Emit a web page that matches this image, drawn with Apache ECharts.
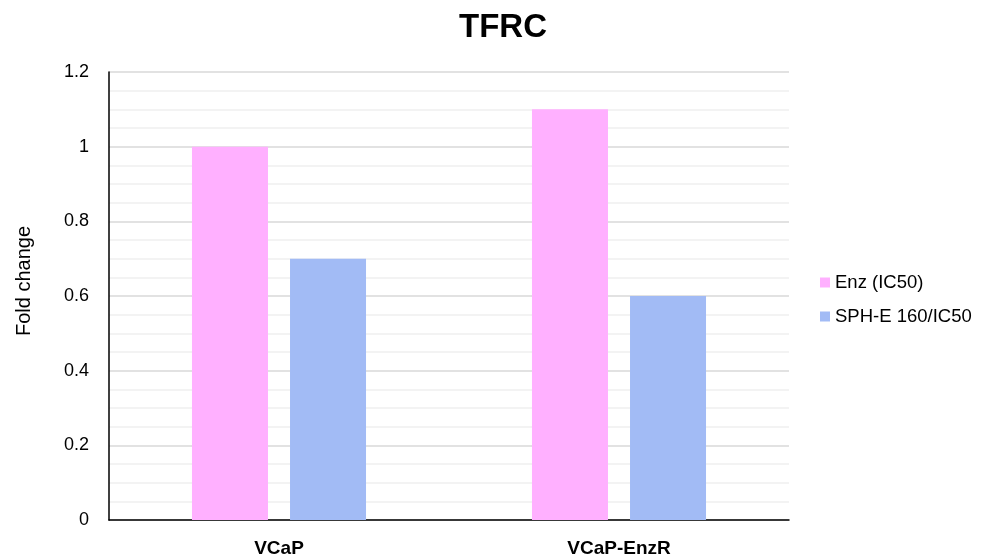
<!DOCTYPE html>
<html>
<head>
<meta charset="utf-8">
<script src="https://cdn.jsdelivr.net/npm/echarts@6/dist/echarts.min.js"></script>
<style>
  html, body { margin: 0; padding: 0; background: #ffffff; }
  #chart { width: 981px; height: 556px; }
</style>
</head>
<body>
<div id="chart"></div>
<script>
// Cell lines on the x axis
const categories = ['VCaP', 'VCaP-EnzR'];
// Fold change per treatment
const enzValues = [1.0, 1.1];
const sphValues = [0.7, 0.6];
const seriesNames = ['Enz (IC50)', 'SPH-E 160/IC50'];

const chart = echarts.init(document.getElementById('chart'));
chart.setOption({
  animation: false,
  backgroundColor: '#ffffff',
  title: {
    text: 'TFRC',
    left: 498,
    top: 6,
    textAlign: 'center',
    textStyle: { fontFamily: 'Liberation Sans', fontWeight: 'bold', fontSize: 33, color: '#000' }
  },
  legend: {
    orient: 'vertical',
    left: 815,
    top: 268,
    itemWidth: 10,
    itemHeight: 10,
    itemGap: 15,
    icon: 'rect',
    textStyle: { fontFamily: 'Liberation Sans', fontSize: 18.5, color: '#000' },
    data: seriesNames
  },
  grid: { left: 109, right: 192, top: 72, bottom: 36, containLabel: false, outerBoundsMode: 'none' },
  xAxis: {
    type: 'category',
    data: categories,
    axisLine: { lineStyle: { color: '#000', width: 1.5 } },
    axisTick: { show: false },
    axisLabel: { fontFamily: 'Liberation Sans', fontWeight: 'bold', fontSize: 19, color: '#000', margin: 19 }
  },
  yAxis: {
    type: 'value',
    min: 0,
    max: 1.2,
    interval: 0.2,
    name: 'Fold change',
    nameLocation: 'middle',
    nameGap: 75,
    nameTextStyle: { fontFamily: 'Liberation Sans', fontSize: 20, color: '#000', padding: [0, 0, 0, 30] },
    axisLine: { show: true, lineStyle: { color: '#000', width: 1.5 } },
    axisTick: { show: false },
    axisLabel: {
      fontFamily: 'Liberation Sans', fontSize: 18, color: '#000', margin: 20,
      formatter: v => String(Math.round(v * 10) / 10)
    },
    splitLine: { lineStyle: { color: '#d9d9d9', width: 1.5 } },
    minorTick: { show: false, splitNumber: 4 },
    minorSplitLine: { show: true, lineStyle: { color: '#efefef', width: 1.5 } }
  },
  series: [
    {
      name: seriesNames[0], type: 'bar', data: enzValues,
      barWidth: 76, barGap: '29%',
      itemStyle: { color: '#ffb0ff' }
    },
    {
      name: seriesNames[1], type: 'bar', data: sphValues,
      barWidth: 76,
      itemStyle: { color: '#a2bbf5' }
    }
  ]
});
</script>
</body>
</html>
